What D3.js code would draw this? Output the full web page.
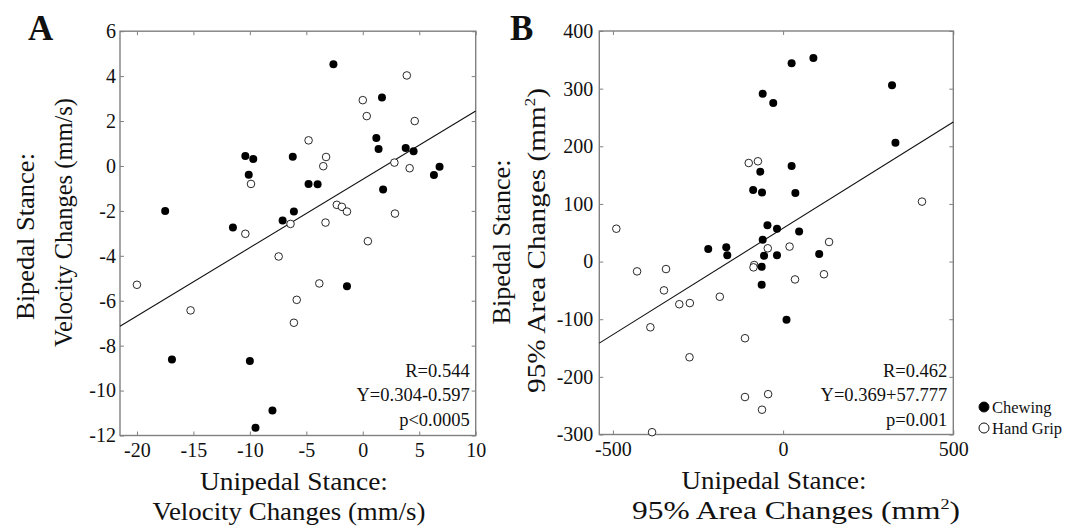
<!DOCTYPE html>
<html><head><meta charset="utf-8">
<script src="https://cdn.jsdelivr.net/npm/d3@7"></script>
<style>
body{margin:0;background:#fff}
svg{display:block}
text{font-family:"Liberation Serif","Times New Roman",serif;fill:#111}
</style>
</head><body>
<svg id="chart" width="1066" height="529"></svg>
<script>
// ---------- Panel A: velocity changes (mm/s) ----------
const chewingA_x = [-17.5,-11.5,-10.4,-9.7,-10.1,-6.2,-7.1,-6.1,-4.8,-4.0,-2.6,1.7,1.2,1.4,1.8,3.8,4.5,6.3,6.8,-16.9,-10.0,-8.0,-9.5,-1.4];
const chewingA_y = [-2.0,-2.74,0.44,0.31,-0.39,0.41,-2.43,-2.03,-0.80,-0.81,4.53,3.05,1.24,0.76,-1.05,0.80,0.65,-0.40,-0.04,-8.62,-8.68,-10.89,-11.66,-5.35];
const gripA_x = [-9.9,-10.4,-4.8,-3.25,-3.5,-6.4,-3.3,-2.3,-1.85,-1.4,0.0,0.35,0.45,3.9,4.6,2.8,4.15,2.85,-20.0,-15.25,-7.45,-3.85,-5.85,-6.1];
const gripA_y = [-0.80,-3.02,1.14,0.40,-0.01,-2.58,-2.52,-1.73,-1.82,-2.03,2.93,2.22,-3.35,4.03,2.0,0.15,-0.10,-2.12,-5.29,-6.43,-4.03,-5.23,-5.96,-6.98];
const fitA = [0.304, -0.597];            // slope, intercept
const statsA = ["R=0.544", "Y=0.304-0.597", "p<0.0005"];
const xTicksA = [-20,-15,-10,-5,0,5,10];
const yTicksA = [6,4,2,0,-2,-4,-6,-8,-10,-12];

// ---------- Panel B: 95% area changes (mm^2) ----------
const chewingB_x = [25,89,-60,-29,320,330,-67,25,-88,-62,36,-46,-18,47,-60,-220,-167,-164,-56,-18,106,-63,-63,10];
const chewingB_y = [344,353,291,275,306,206,156,166,124,120,119,63,57,52,38,22,25,11,10,11,13,-9,-40,-101];
const gripB_x = [-490,-101,-74,408,-45,19,135,-429,-344,-350,-305,-274,-186,-390,-275,-112,-85,-87,35,120,-112,-44,-62,-385];
const gripB_y = [57,171,174,104,23,26,34,-17,-13,-50,-74,-72,-61,-114,-166,-133,-6,-10,-31,-22,-235,-230,-257,-296];
const fitB = [0.369, 57.777];
const statsB = ["R=0.462", "Y=0.369+57.777", "p=0.001"];
const xTicksB = [-500,0,500];
const yTicksB = [400,300,200,100,0,-100,-200,-300];

const legendLabels = ["Chewing", "Hand Grip"];

const svg = d3.select("#chart");
svg.append("rect").attr("width",1066).attr("height",529).attr("fill","#fff");

function zip(xs, ys){ return xs.map((x,i)=>[x, ys[i]]); }

function drawPanel(p){
  const x = d3.scaleLinear().domain(p.xDomain).range([p.left, p.right]);
  const y = d3.scaleLinear().domain(p.yDomain).range([p.bottom, p.top]);
  const g = svg.append("g");
  const gray = "#808080";

  function styleAxis(sel, hideLabels){
    sel.select(".domain").remove();
    sel.selectAll(".tick line").attr("stroke", gray).attr("stroke-width",1);
    sel.selectAll(".tick text").attr("fill","#1a1a1a")
       .style("font-family",'"Liberation Serif",serif').style("font-size","20px");
    if(hideLabels) sel.selectAll(".tick text").remove();
  }
  g.append("g").attr("transform",`translate(0,${p.bottom})`)
    .call(d3.axisBottom(x).tickValues(p.xTicks).tickSizeInner(-4).tickSizeOuter(0).tickPadding(p.xPad).tickFormat(d3.format("d")))
    .call(s=>styleAxis(s,false));
  g.append("g").attr("transform",`translate(0,${p.top})`)
    .call(d3.axisTop(x).tickValues(p.xTicks).tickSizeInner(-4).tickSizeOuter(0))
    .call(s=>styleAxis(s,true));
  g.append("g").attr("transform",`translate(${p.left},0)`)
    .call(d3.axisLeft(y).tickValues(p.yTicks).tickSizeInner(-4).tickSizeOuter(0).tickPadding(p.yPad).tickFormat(d3.format("d")))
    .call(s=>styleAxis(s,false));
  g.append("g").attr("transform",`translate(${p.right},0)`)
    .call(d3.axisRight(y).tickValues(p.yTicks).tickSizeInner(-4).tickSizeOuter(0))
    .call(s=>styleAxis(s,true));
  g.selectAll(".tick text").text(function(){ return this.textContent.replace("\u2212","-"); });

  // frame
  g.append("rect").attr("x",p.left).attr("y",p.top)
    .attr("width",p.right-p.left).attr("height",p.bottom-p.top)
    .attr("fill","none").attr("stroke",gray).attr("stroke-width",1.4);

  // regression line
  const [m,b] = p.fit;
  const x0 = p.xDomain[0], x1 = p.xDomain[1];
  g.append("line")
    .attr("x1",x(x0)).attr("y1",y(m*x0+b))
    .attr("x2",x(x1)).attr("y2",y(m*x1+b))
    .attr("stroke","#111").attr("stroke-width",1.1);

  // points
  g.append("g").selectAll("circle").data(p.grip).join("circle")
    .attr("cx",d=>x(d[0])).attr("cy",d=>y(d[1])).attr("r",3.8)
    .attr("fill","#fff").attr("stroke","#111").attr("stroke-width",0.9);
  g.append("g").selectAll("circle").data(p.chew).join("circle")
    .attr("cx",d=>x(d[0])).attr("cy",d=>y(d[1])).attr("r",4)
    .attr("fill","#000");

  // stats text
  g.append("g").selectAll("text").data(p.stats).join("text")
    .attr("x", p.right-6).attr("y",(d,i)=>376.5 + i*24.5)
    .attr("text-anchor","end").style("font-size","18.5px").text(d=>d);

  // panel letter
  g.append("text").attr("x",p.letterX).attr("y",40)
    .style("font-size","35px").style("font-weight","bold").attr("fill","#000").text(p.letter);
}

drawPanel({
  left:120, right:475.7, top:31.2, bottom:435.5,
  xDomain:[-21.5,10], yDomain:[-12,6], xTicks:xTicksA, yTicks:yTicksA,
  xPad:7, yPad:4,
  chew: zip(chewingA_x, chewingA_y), grip: zip(gripA_x, gripA_y),
  fit: fitA, stats: statsA, letter:"A", letterX:28
});
drawPanel({
  left:599.3, right:953.3, top:31, bottom:434.5,
  xDomain:[-540,500], yDomain:[-300,400], xTicks:xTicksB, yTicks:yTicksB,
  xPad:7, yPad:6,
  chew: zip(chewingB_x, chewingB_y), grip: zip(gripB_x, gripB_y),
  fit: fitB, stats: statsB, letter:"B", letterX:510
});

// ---------- axis titles ----------
const TF = "26px";
function addSup(t, txt){
  t.append("tspan").text(txt);
  t.append("tspan").attr("dy",-10).style("font-size","15px").text("2");
  t.append("tspan").attr("dy",10).text(")");
}
function hText(txt, cx, base, len, sup){
  const t = svg.append("text").attr("x",cx).attr("y",base).attr("text-anchor","middle")
    .style("font-size",TF).attr("textLength",len).attr("lengthAdjust","spacingAndGlyphs");
  if(sup) addSup(t, txt); else t.text(txt);
}
function vText(txt, base, cy, len, sup){
  const t = svg.append("text").attr("transform",`translate(${base},${cy}) rotate(-90)`)
    .attr("text-anchor","middle").style("font-size",TF)
    .attr("textLength",len).attr("lengthAdjust","spacingAndGlyphs");
  if(sup) addSup(t, txt); else t.text(txt);
}
hText("Unipedal Stance:", 294, 490, 188);
hText("Velocity Changes (mm/s)", 289, 520, 273);
hText("Unipedal Stance:", 774, 488.5, 185);
hText("95% Area Changes (mm", 796, 519, 328, true);

vText("Bipedal Stance:", 33.5, 236.5, 167);
vText("Velocity Changes (mm/s)", 72, 222.5, 249);
vText("Bipedal Stance:", 510, 242, 165);
vText("95% Area Changes (mm", 545, 240.5, 305, true);

// ---------- legend ----------
const leg = svg.append("g");
legendLabels.forEach((lab,i)=>{
  const cy = 407 + i*21;
  leg.append("circle").attr("cx",984).attr("cy",cy).attr("r",5)
    .attr("fill", i===0 ? "#000" : "#fff").attr("stroke","#111").attr("stroke-width",1);
  leg.append("text").attr("x",992).attr("y",cy+6).style("font-size","16.5px").text(lab);
});
</script>
</body></html>
